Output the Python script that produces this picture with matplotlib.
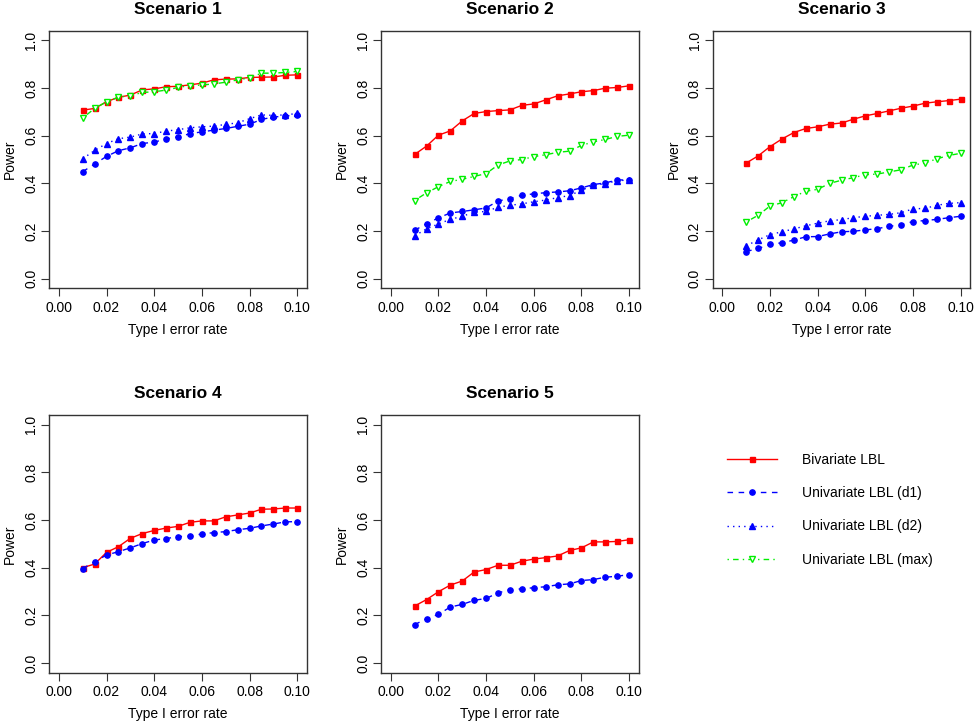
import matplotlib
matplotlib.use("Agg")
import matplotlib.pyplot as plt
from matplotlib.lines import Line2D

plt.rcParams['font.family'] = ['Liberation Sans', 'DejaVu Sans']

alpha = [0.010, 0.015, 0.020, 0.025, 0.030, 0.035, 0.040, 0.045, 0.050, 0.055,
         0.060, 0.065, 0.070, 0.075, 0.080, 0.085, 0.090, 0.095, 0.100]

# Scenario 1
s1_biv = [0.707, 0.714, 0.742, 0.761, 0.770, 0.792, 0.796, 0.805, 0.807, 0.813,
          0.820, 0.834, 0.837, 0.838, 0.844, 0.845, 0.846, 0.853, 0.855]
s1_d1 = [0.449, 0.481, 0.513, 0.537, 0.549, 0.567, 0.573, 0.586, 0.595, 0.608,
         0.616, 0.623, 0.630, 0.639, 0.648, 0.668, 0.678, 0.682, 0.687]
s1_d2 = [0.503, 0.538, 0.567, 0.587, 0.594, 0.607, 0.609, 0.619, 0.625, 0.633,
         0.637, 0.640, 0.647, 0.654, 0.671, 0.687, 0.685, 0.687, 0.693]
s1_max = [0.674, 0.714, 0.742, 0.761, 0.768, 0.781, 0.784, 0.791, 0.802, 0.810,
          0.812, 0.817, 0.824, 0.834, 0.842, 0.862, 0.862, 0.865, 0.869]

# Scenario 2
s2_biv = [0.521, 0.556, 0.602, 0.620, 0.662, 0.693, 0.701, 0.705, 0.708, 0.727,
          0.733, 0.750, 0.767, 0.775, 0.784, 0.789, 0.799, 0.802, 0.809]
s2_d1 = [0.203, 0.231, 0.255, 0.276, 0.282, 0.289, 0.297, 0.326, 0.336, 0.350,
         0.356, 0.361, 0.364, 0.369, 0.381, 0.395, 0.402, 0.414, 0.415]
s2_d2 = [0.180, 0.209, 0.230, 0.249, 0.262, 0.279, 0.282, 0.300, 0.308, 0.314,
         0.323, 0.330, 0.340, 0.349, 0.371, 0.392, 0.399, 0.411, 0.414]
s2_max = [0.328, 0.360, 0.386, 0.408, 0.417, 0.429, 0.441, 0.477, 0.494, 0.500,
          0.512, 0.520, 0.530, 0.535, 0.559, 0.574, 0.584, 0.597, 0.602]

# Scenario 3
s3_biv = [0.485, 0.515, 0.554, 0.586, 0.613, 0.630, 0.637, 0.648, 0.653, 0.669,
          0.683, 0.693, 0.704, 0.715, 0.724, 0.736, 0.742, 0.747, 0.753]
s3_d1 = [0.114, 0.127, 0.144, 0.151, 0.162, 0.176, 0.177, 0.188, 0.197, 0.199,
         0.205, 0.210, 0.220, 0.226, 0.240, 0.244, 0.249, 0.256, 0.262]
s3_d2 = [0.138, 0.163, 0.185, 0.197, 0.209, 0.222, 0.233, 0.243, 0.248, 0.256,
         0.262, 0.266, 0.270, 0.277, 0.293, 0.295, 0.308, 0.316, 0.319]
s3_max = [0.238, 0.266, 0.305, 0.319, 0.344, 0.367, 0.375, 0.400, 0.413, 0.424,
          0.436, 0.439, 0.448, 0.457, 0.477, 0.485, 0.503, 0.517, 0.526]

# Scenario 4
s4_biv = [0.400, 0.415, 0.464, 0.488, 0.523, 0.543, 0.556, 0.566, 0.573, 0.590,
          0.596, 0.596, 0.613, 0.621, 0.629, 0.645, 0.646, 0.650, 0.650]
s4_d1 = [0.396, 0.425, 0.453, 0.467, 0.483, 0.501, 0.516, 0.522, 0.530, 0.533,
         0.541, 0.547, 0.551, 0.559, 0.565, 0.575, 0.583, 0.592, 0.593]

# Scenario 5
s5_biv = [0.239, 0.266, 0.299, 0.327, 0.344, 0.382, 0.392, 0.410, 0.410, 0.427,
          0.436, 0.442, 0.449, 0.472, 0.483, 0.508, 0.508, 0.510, 0.517]
s5_d1 = [0.161, 0.186, 0.204, 0.235, 0.246, 0.263, 0.271, 0.294, 0.308, 0.311,
         0.316, 0.320, 0.328, 0.332, 0.346, 0.350, 0.360, 0.364, 0.371]

titles = ["Scenario 1", "Scenario 2", "Scenario 3", "Scenario 4", "Scenario 5"]
series_labels = ["Bivariate LBL", "Univariate LBL (d1)",
                 "Univariate LBL (d2)", "Univariate LBL (max)"]
xticks = [0.00, 0.02, 0.04, 0.06, 0.08, 0.10]
yticks = [0.0, 0.2, 0.4, 0.6, 0.8, 1.0]

styles = {
    "biv": dict(color="#FF0000", linestyle="-", marker="s", markersize=3.6,
                markerfacecolor="#FF0000", markeredgecolor="#FF0000"),
    "d1": dict(color="#0000FF", linestyle=(0, (4, 4)), marker="o", markersize=3.8,
               markerfacecolor="#0000FF", markeredgecolor="#0000FF"),
    "d2": dict(color="#0000FF", linestyle=(0, (1, 3)), marker="^", markersize=4.4,
               markerfacecolor="#0000FF", markeredgecolor="#0000FF"),
    "max": dict(color="#00EE00", linestyle=(0, (1, 3, 4, 3)), marker="v", markersize=5,
                markerfacecolor="white", markeredgecolor="#00EE00", markeredgewidth=1.0),
}

panels = [
    {"biv": s1_biv, "d1": s1_d1, "d2": s1_d2, "max": s1_max},
    {"biv": s2_biv, "d1": s2_d1, "d2": s2_d2, "max": s2_max},
    {"biv": s3_biv, "d1": s3_d1, "d2": s3_d2, "max": s3_max},
    {"biv": s4_biv, "d1": s4_d1},
    {"biv": s5_biv, "d1": s5_d1},
]

W, H = 975, 722
fig = plt.figure(figsize=(W / 100, H / 100), dpi=100)

lefts = [49.3, 381.2, 712.8]
tops = [30.7, 415.0]
aw, ah = 257.5, 257.6

for i, (title, data) in enumerate(zip(titles, panels)):
    r, c = divmod(i, 3)
    left = lefts[c] / W
    bottom = 1 - (tops[r] + ah) / H
    ax = fig.add_axes([left, bottom, aw / W, ah / H])
    for key in ["biv", "d1", "d2", "max"]:
        if key in data:
            ax.plot(alpha, data[key], linewidth=1.0, **styles[key])
    ax.set_xlim(-0.004, 0.104)
    ax.set_ylim(-0.04, 1.04)
    ax.set_xticks(xticks)
    ax.set_xticklabels([f"{v:.2f}" for v in xticks])
    ax.set_yticks(yticks)
    ax.set_yticklabels([f"{v:.1f}" for v in yticks], rotation=90, va="center")
    ax.tick_params(axis="both", length=6, width=0.8, labelsize=10, color="#333333")
    ax.tick_params(axis="x", pad=3)
    ax.tick_params(axis="y", pad=2)
    for sp in ax.spines.values():
        sp.set_linewidth(1.0)
        sp.set_color("#333333")
    ax.set_title(title, fontsize=12.5, fontweight="bold", pad=12)
    ax.set_xlabel("Type I error rate", fontsize=10, labelpad=6)
    ax.set_ylabel("Power", fontsize=10, labelpad=5)

handles = []
for key, lab in zip(["biv", "d1", "d2", "max"], series_labels):
    handles.append(Line2D([], [], linewidth=1.0, label=lab, **styles[key]))

fig.legend(handles=handles, loc="upper left",
           bbox_to_anchor=(721 / W, 1 - 447 / H),
           frameon=False, fontsize=10, handlelength=3.6, handletextpad=1.8,
           labelspacing=1.4, borderaxespad=0)

fig.savefig("out.png", dpi=100)
